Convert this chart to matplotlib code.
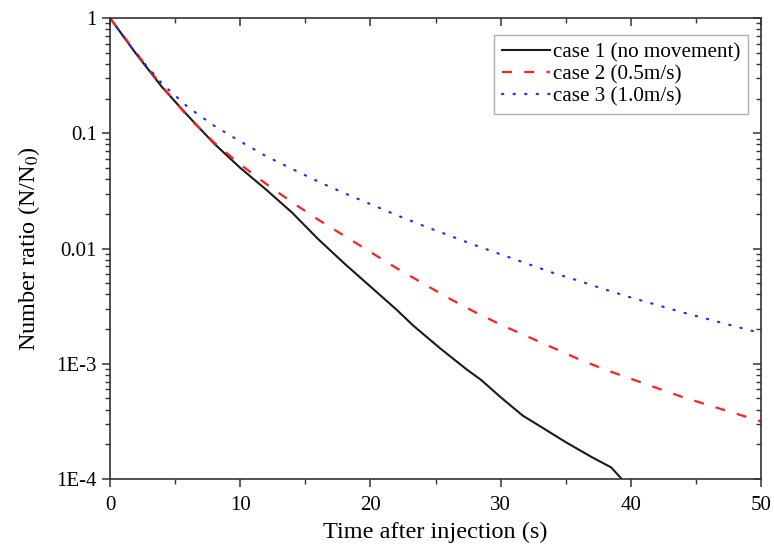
import numpy as np
import matplotlib
matplotlib.use("Agg")
import matplotlib.pyplot as plt
from matplotlib.ticker import FixedLocator, FixedFormatter, MultipleLocator, LogLocator, NullFormatter

# ---- data (log10 of N/N0) ----
t1 = [0, 2, 4, 6, 8, 10, 12, 14, 16, 18, 20, 22, 23.3, 25.4, 27.4, 28.5, 30.0, 31.7, 33.0, 35.0, 37.0, 38.5, 39.3, 39.6]
log1 = [0, -0.31, -0.60, -0.85, -1.09, -1.30, -1.49, -1.69, -1.92, -2.13, -2.33, -2.53, -2.67, -2.87, -3.05, -3.14, -3.29, -3.45, -3.54, -3.68, -3.81, -3.90, -4.0, -4.03]

t2 = [0, 2, 4, 6, 8, 10, 12, 14, 16, 18, 20, 22, 24, 26, 28, 30, 32, 34, 36, 38, 40, 42, 44, 46, 48, 50]
log2 = [0, -0.30, -0.59, -0.86, -1.08, -1.27, -1.44, -1.60, -1.75, -1.89, -2.03, -2.17, -2.30, -2.43, -2.55, -2.66, -2.76, -2.86, -2.96, -3.05, -3.13, -3.21, -3.29, -3.36, -3.43, -3.50]

t3 = [0, 2, 4, 6, 8, 10, 12, 14, 16, 18, 20, 22, 24, 26, 28, 30, 32, 34, 36, 38, 40, 42, 44, 46, 48, 50]
log3 = [0, -0.31, -0.57, -0.775, -0.935, -1.07, -1.20, -1.31, -1.42, -1.52, -1.615, -1.71, -1.80, -1.885, -1.97, -2.05, -2.13, -2.21, -2.28, -2.355, -2.425, -2.49, -2.555, -2.615, -2.675, -2.735]

labels = ["case 1 (no movement)", "case 2 (0.5m/s)", "case 3 (1.0m/s)"]
ytick_vals = [1e-4, 1e-3, 1e-2, 1e-1, 1]
ytick_labels = ["1E-4", "1E-3", "0.01", "0.1", "1"]
xtick_vals = [0, 10, 20, 30, 40, 50]

plt.rcParams['font.family'] = ['Liberation Serif', 'DejaVu Serif']
plt.rcParams['mathtext.fontset'] = 'stix'

fig = plt.figure(figsize=(7.74, 5.52), dpi=100)
ax = fig.add_axes([110/774, 1-479/552, (761-110)/774, (479-18)/552])

ax.plot(t1, 10**np.array(log1), color='#1a1a1a', lw=1.5, label=labels[0])
ax.plot(t2, 10**np.array(log2), color='#ff2020', lw=1.6, linestyle=(0, (4.5, 5.5)), label=labels[1])
ax.plot(t3, 10**np.array(log3), color='#2a2aff', lw=1.6, linestyle=(0, (0.6, 4.6)),
        dash_capstyle='round', label=labels[2])

ax.set_yscale('log')
ax.set_xlim(0, 50)
ax.set_ylim(1e-4, 1)

ax.yaxis.set_major_locator(FixedLocator(ytick_vals))
ax.yaxis.set_major_formatter(FixedFormatter(ytick_labels))
ax.yaxis.set_minor_locator(LogLocator(base=10, subs=np.arange(2, 10)))
ax.yaxis.set_minor_formatter(NullFormatter())
ax.xaxis.set_major_locator(FixedLocator(xtick_vals))
ax.xaxis.set_minor_locator(MultipleLocator(5))

for side in ['left', 'right', 'top', 'bottom']:
    ax.spines[side].set_linewidth(1.2)
    ax.spines[side].set_color('#333333')

ax.tick_params(axis='both', which='major', labelsize=15, length=6, width=1.1, color='#333333')
ax.tick_params(axis='both', which='minor', length=3.5, width=1.0, color='#333333')
ax.tick_params(axis='both', which='both', direction='out', top=False, right=False)
ax.tick_params(axis='x', pad=6)

# inward ticks on top and right
axt = ax.secondary_xaxis('top')
axt.xaxis.set_major_locator(FixedLocator(xtick_vals))
axt.xaxis.set_minor_locator(MultipleLocator(5))
axt.tick_params(which='major', direction='in', length=6, width=1.1, labeltop=False, color='#333333')
axt.tick_params(which='minor', direction='in', length=3.5, width=1.0, color='#333333')
axt.spines['top'].set_visible(False)
axr = ax.secondary_yaxis('right')
axr.yaxis.set_major_locator(FixedLocator(ytick_vals))
axr.yaxis.set_minor_locator(LogLocator(base=10, subs=np.arange(2, 10)))
axr.yaxis.set_minor_formatter(NullFormatter())
axr.tick_params(which='major', direction='in', length=6, width=1.1, labelright=False, color='#333333')
axr.tick_params(which='minor', direction='in', length=3.5, width=1.0, color='#333333')
axr.spines['right'].set_visible(False)

ax.set_xlabel("Time after injection (s)", fontsize=17.5, labelpad=5)
ax.set_ylabel("Number ratio (N/N$_0$)", fontsize=17.5, labelpad=10)

leg = ax.legend(loc='upper right', bbox_to_anchor=(748/774, 1-35/552), bbox_transform=fig.transFigure,
                fontsize=15.2, frameon=True, fancybox=False, handlelength=2.3, handletextpad=0.15,
                borderpad=0.35, labelspacing=0.12, borderaxespad=0)
leg.get_frame().set_edgecolor('#999999')
leg.get_frame().set_linewidth(1.0)

fig.savefig("out.png", dpi=100, facecolor='white')
